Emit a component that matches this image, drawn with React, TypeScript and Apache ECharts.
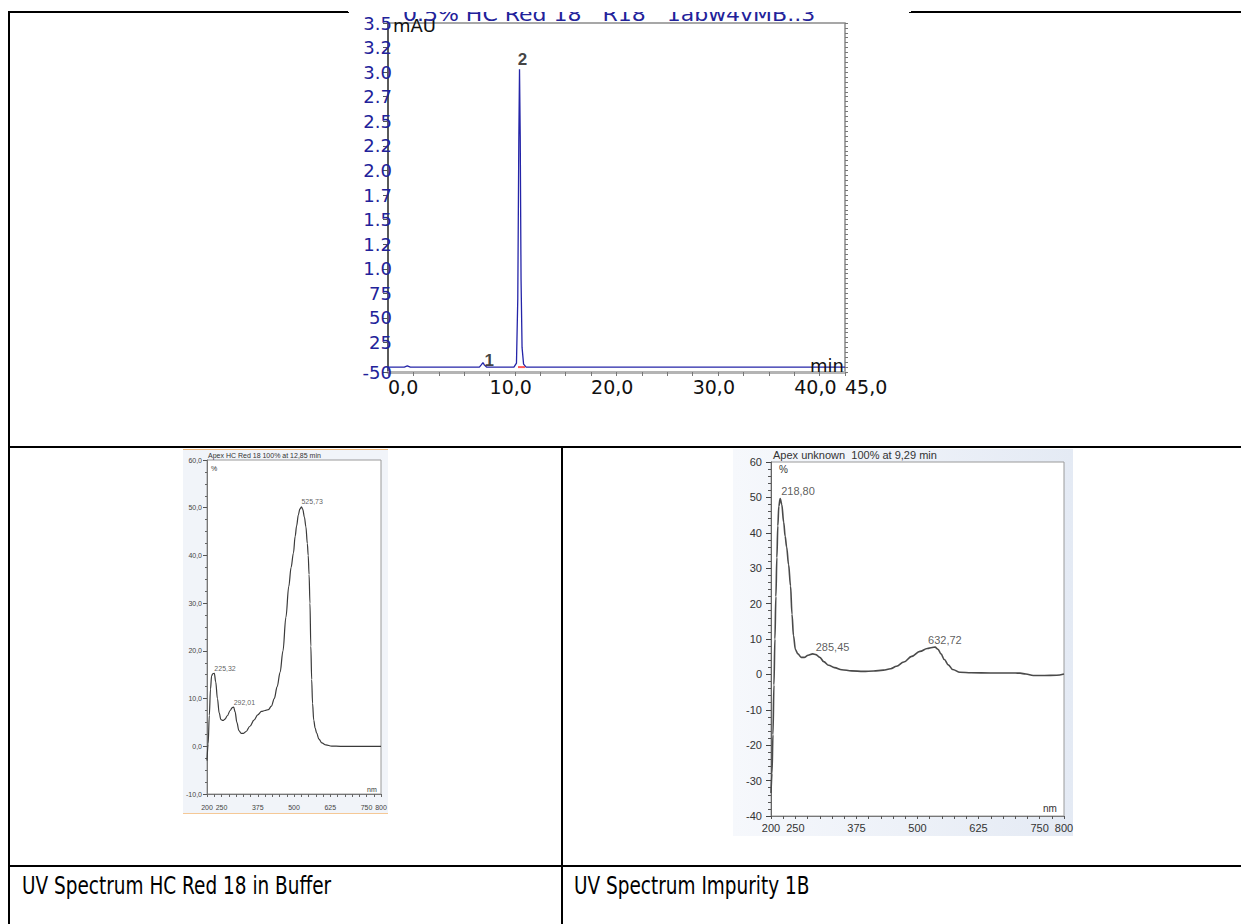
import React, { useEffect, useRef } from "react";
import * as echarts from "echarts";

// ---------- Chromatogram (top) ----------
const chromTime = [0, 1.6, 1.9, 2.2, 6, 9.0, 9.2, 9.35, 9.5, 9.7, 12.4, 12.65, 12.78, 12.88, 12.95, 13.02, 13.1, 13.2, 13.35, 13.6, 20, 30, 40, 45];
const chromSignal = [0, 0, 12, 0, 0, 0, 25, 45, 20, 0, 0, 40, 700, 2300, 3030, 2350, 900, 200, 30, 0, 0, 0, 0, 0];
const chromPeakNames = ["1", "2"];
const chromPeakTimes = [9.35, 12.95];
const chromIntegTimes = [12.8, 13.5];
const chromIntegLevel = [0, 0];
const chromXTicks = [0, 10, 20, 30, 40, 45];
const chromXLabels = ["0,0", "10,0", "20,0", "30,0", "40,0", "45,0"];
const chromYTicks = [-50, 250, 500, 750, 1000, 1250, 1500, 1750, 2000, 2250, 2500, 2750, 3000, 3250, 3500];
const chromYLabels = ["-50", "25", "50", "75", "1.0", "1.2", "1.5", "1.7", "2.0", "2.2", "2.5", "2.7", "3.0", "3.2", "3.5"];
const chromTitle = "0.5% HC Red 18   R18   1abw4vMB..3";

// ---------- UV spectrum HC Red 18 (bottom left) ----------
const uvRedNm = [200, 204, 208, 212, 216, 220, 225.32, 230, 236, 242, 248, 255, 262, 270, 280, 287, 292.01, 297, 303, 310, 318, 326, 335, 348, 362, 375, 388, 400, 412, 422, 432, 442, 452, 462, 472, 482, 490, 498, 504, 509, 515, 520, 525.73, 530, 536, 541, 546, 549, 552, 555, 558, 561, 564, 568, 573, 578, 586, 596, 610, 630, 660, 720, 800];
const uvRedPct = [-3, 0.5, 6.5, 12, 14.8, 15.2, 15.3, 13.5, 10, 7, 5.6, 5.4, 5.7, 6.4, 7.5, 8.1, 8.2, 7.2, 5, 3.3, 2.7, 2.7, 3.1, 4.2, 5.5, 6.6, 7.3, 7.5, 7.7, 8.4, 10, 12.5, 15.5, 20, 27, 33.5, 37.5, 40.5, 44, 46.2, 48.5, 49.7, 50.2, 49.7, 48, 46, 42.5, 40, 36, 30, 21, 14, 9, 5.5, 3.8, 2.8, 1.5, 0.7, 0.3, 0.05, 0, 0, 0];
const uvRedPeakNm = [225.32, 292.01, 525.73];
const uvRedPeakLabels = ["225,32", "292,01", "525,73"];
const uvRedYTicks = [-10, 0, 10, 20, 30, 40, 50, 60];
const uvRedYLabels = ["-10,0", "0,0", "10,0", "20,0", "30,0", "40,0", "50,0", "60,0"];
const uvRedTitle = "Apex HC Red 18 100% at 12,85 min";

// ---------- UV spectrum Impurity 1B (bottom right) ----------
const uvImpNm = [200, 202, 204, 206, 208, 210, 212, 214, 216, 218.8, 222, 226, 229, 232, 236, 240, 243, 246, 250, 255, 262, 268, 276, 285.45, 292, 300, 308, 318, 330, 345, 365, 389, 410, 430, 445, 457, 472, 488, 505, 520, 530, 536, 542, 548, 555, 563, 572, 587, 610, 650, 690, 710, 722, 737, 760, 785, 800];
const uvImpPct = [-33.5, -28, -17, -3, 10, 22, 33, 42, 47.5, 49.7, 48, 43, 39, 36, 31, 25, 17, 11, 7, 5.8, 4.8, 4.8, 5.4, 5.8, 5.6, 4.8, 3.6, 2.6, 1.9, 1.3, 1.0, 0.85, 0.95, 1.2, 1.6, 2.3, 3.5, 5.1, 6.5, 7.3, 7.6, 7.7, 7.1, 5.8, 4.2, 2.7, 1.4, 0.6, 0.45, 0.4, 0.4, 0.35, 0.1, -0.3, -0.3, -0.25, 0.1];
const uvImpPeakNm = [218.8, 285.45, 536];
const uvImpPeakLabels = ["218,80", "285,45", "632,72"];
const uvImpYTicks = [-40, -30, -20, -10, 0, 10, 20, 30, 40, 50, 60];
const uvImpYLabels = ["-40", "-30", "-20", "-10", "0", "10", "20", "30", "40", "50", "60"];
const uvImpTitle = "Apex unknown  100% at 9,29 min";

const uvXTicks = [200, 250, 375, 500, 625, 750, 800];
const uvXLabels = ["200", "250", "375", "500", "625", "750", "800"];

const captions = ["UV Spectrum HC Red 18 in Buffer", "UV Spectrum Impurity 1B"];

const pick = (ticks: number[], labels: string[]) => (v: number) => {
  const i = ticks.findIndex((t) => Math.abs(t - v) < 1e-6);
  return i >= 0 ? labels[i] : "";
};

export default function App() {
  const ref = useRef<HTMLDivElement>(null);

  useEffect(() => {
    const chart = echarts.init(ref.current!, null, { renderer: "svg" });
    const navy = "#22229a";
    const lineBlack = "#000";

    const chromData = chromTime.map((t, i) => [t, chromSignal[i]]);
    const chromPeakData = chromPeakTimes.map((t, i) => ({
      value: [t, chromSignal[chromTime.indexOf(t)]],
      name: chromPeakNames[i],
      label: i === 0 ? { position: "right", distance: 0, offset: [1, -2] } : { position: "top", distance: 1, offset: [3, 0] },
    }));

    const uvRedData = uvRedNm.map((n, i) => [n, uvRedPct[i]]);
    const uvRedPeakData = uvRedPeakNm.map((n, i) => ({
      value: [n, uvRedPct[uvRedNm.indexOf(n)]],
      name: uvRedPeakLabels[i],
    }));
    const uvImpData = uvImpNm.map((n, i) => [n, uvImpPct[i]]);
    const impDx = [1, 3, -7];
    const uvImpPeakData = uvImpPeakNm.map((n, i) => ({
      value: [n, uvImpPct[uvImpNm.indexOf(n)]],
      name: uvImpPeakLabels[i],
      label: { offset: [impDx[i], 0] },
    }));

    const txt = (text: string, x: number, y: number, size: number, color: string, family: string, extra: any = {}) => ({
      type: "text",
      x,
      y,
      z: extra.z ?? 20,
      scaleX: extra.scaleX ?? 1,
      silent: true,
      style: {
        text,
        fill: color,
        fontSize: size,
        fontFamily: family,
        fontWeight: extra.weight ?? "normal",
        align: extra.align ?? "left",
        textAlign: extra.align ?? "left",
        verticalAlign: "middle",
        textVerticalAlign: "middle",
      },
    });
    const ln = (x1: number, y1: number, x2: number, y2: number, color: string, w: number, z = 30) => ({
      type: "line",
      z,
      silent: true,
      shape: { x1, y1, x2, y2 },
      style: { stroke: color, lineWidth: w },
    });

    const uvXLabel = (size: number, margin: number, color: string) => ({
      customValues: uvXTicks,
      formatter: pick(uvXTicks, uvXLabels),
      showMinLabel: true,
      showMaxLabel: true,
      hideOverlap: false,
      margin,
      fontSize: size,
      color,
      fontFamily: "Liberation Sans",
    });

    const option: any = {
      animation: false,
      backgroundColor: "#ffffff",
      grid: [
        { left: 388, top: 23, width: 457, height: 349, show: true, borderColor: "#8a8a8a", borderWidth: 1.5, backgroundColor: "#fff" },
        { left: 207, top: 460, width: 174, height: 334, show: true, borderColor: "#9a9a9a", borderWidth: 1, backgroundColor: "#fff" },
        { left: 771, top: 462, width: 293, height: 354, show: true, borderColor: "#9a9a9a", borderWidth: 1, backgroundColor: "#fff" },
      ],
      xAxis: [
        {
          type: "value", gridIndex: 0, min: 0, max: 45, interval: 2.5,
          axisLine: { show: true, onZero: false, lineStyle: { color: "#b4b4b4", width: 3 } },
          axisTick: { show: true, length: 4, lineStyle: { color: "#777" } },
          axisLabel: {
            customValues: chromXTicks, formatter: pick(chromXTicks, chromXLabels),
            showMinLabel: true, showMaxLabel: true, hideOverlap: false,
            align: "left", margin: 5, fontSize: 19, color: "#111", fontFamily: "DejaVu Sans",
          },
          splitLine: { show: false },
        },
        {
          type: "value", gridIndex: 1, min: 200, max: 800, interval: 25,
          axisLine: { show: true, onZero: false, lineStyle: { color: "#777", width: 1 } },
          axisTick: { show: true, length: 3, lineStyle: { color: "#666" } },
          axisLabel: uvXLabel(7, 10, "#444"),
          splitLine: { show: false },
        },
        {
          type: "value", gridIndex: 2, min: 200, max: 800, interval: 25,
          axisLine: { show: true, onZero: false, lineStyle: { color: "#777", width: 1 } },
          axisTick: { show: true, length: 3, lineStyle: { color: "#555" } },
          axisLabel: uvXLabel(11, 6, "#333"),
          splitLine: { show: false },
        },
      ],
      yAxis: [
        {
          type: "value", gridIndex: 0, min: -50, max: 3500,
          axisLine: { show: true, onZero: false, lineStyle: { color: "#5a5a5a", width: 2 } },
          axisTick: { show: true, customValues: chromYTicks, length: 5, lineStyle: { color: "#555" } },
          axisLabel: {
            customValues: chromYTicks, formatter: pick(chromYTicks, chromYLabels),
            showMinLabel: true, showMaxLabel: true, hideOverlap: false,
            margin: -4, fontSize: 18, color: navy, fontFamily: "DejaVu Sans",
          },
          splitLine: { show: false },
        },
        {
          type: "value", gridIndex: 0, min: -50, max: 3500, interval: 50,
          axisLine: { show: false, onZero: false },
          axisTick: { show: true, length: 3, lineStyle: { color: "#777" } },
          axisLabel: { show: false },
          splitLine: { show: false },
        },
        {
          type: "value", gridIndex: 1, min: -10, max: 60, interval: 10,
          axisLine: { show: true, onZero: false, lineStyle: { color: "#777", width: 1 } },
          axisTick: { show: true, length: 4, lineStyle: { color: "#555" } },
          minorTick: { show: true, splitNumber: 4, length: 2, lineStyle: { color: "#666" } },
          axisLabel: {
            formatter: pick(uvRedYTicks, uvRedYLabels), margin: 5, fontSize: 7, color: "#444", fontFamily: "Liberation Sans",
          },
          splitLine: { show: false },
        },
        {
          type: "value", gridIndex: 2, min: -40, max: 60, interval: 10,
          axisLine: { show: true, onZero: false, lineStyle: { color: "#666", width: 1 } },
          axisTick: { show: true, length: 5, lineStyle: { color: "#444" } },
          minorTick: { show: true, splitNumber: 5, length: 3, lineStyle: { color: "#555" } },
          axisLabel: {
            formatter: pick(uvImpYTicks, uvImpYLabels), margin: 9, fontSize: 11, color: "#333", fontFamily: "Liberation Sans",
          },
          splitLine: { show: false },
        },
      ],
      series: [
        {
          type: "line", xAxisIndex: 0, yAxisIndex: 0, data: chromData, showSymbol: false, silent: true,
          lineStyle: { color: "#2424a8", width: 1.3 }, z: 3,
        },
        {
          type: "line", xAxisIndex: 0, yAxisIndex: 0, showSymbol: false, silent: true,
          data: chromIntegTimes.map((t, i) => [t, chromIntegLevel[i]]),
          lineStyle: { color: "#ff5a5a", width: 2 }, z: 4,
        },
        {
          type: "scatter", xAxisIndex: 0, yAxisIndex: 0, data: chromPeakData, symbolSize: 1, silent: true,
          itemStyle: { color: "rgba(0,0,0,0)" }, emphasis: { disabled: true },
          label: { show: true, formatter: (p: any) => p.name, fontSize: 17, fontWeight: "bold", color: "#111", fontFamily: "Liberation Sans" },
          z: 6,
        },
        {
          type: "line", xAxisIndex: 1, yAxisIndex: 2, data: uvRedData, showSymbol: false, silent: true,
          smooth: 0.35, smoothMonotone: "x", lineStyle: { color: "#3a3a3a", width: 1.2 },
        },
        {
          type: "scatter", xAxisIndex: 1, yAxisIndex: 2, data: uvRedPeakData, symbolSize: 1, silent: true,
          itemStyle: { color: "rgba(0,0,0,0)" }, emphasis: { disabled: true },
          label: { show: true, position: "top", align: "left", distance: 1, formatter: (p: any) => p.name, fontSize: 7, color: "#333", fontFamily: "Liberation Sans" },
        },
        {
          type: "line", xAxisIndex: 2, yAxisIndex: 3, data: uvImpData, showSymbol: false, silent: true,
          smooth: 0.35, smoothMonotone: "x", lineStyle: { color: "#4a4a4a", width: 1.6 },
        },
        {
          type: "scatter", xAxisIndex: 2, yAxisIndex: 3, data: uvImpPeakData, symbolSize: 1, silent: true,
          itemStyle: { color: "rgba(0,0,0,0)" }, emphasis: { disabled: true },
          label: { show: true, position: "top", align: "left", distance: 1, formatter: (p: any) => p.name, fontSize: 11, color: "#333", fontFamily: "Liberation Sans" },
        },
      ],
      graphic: [
        // image backgrounds of the UV spectra
        { type: "rect", z: -10, silent: true, shape: { x: 183, y: 449, width: 205, height: 364 }, style: { fill: "#f1f4f9" } },
        {
          type: "rect", z: -10, silent: true, shape: { x: 733, y: 449, width: 340, height: 387 },
          style: { fill: new echarts.graphic.LinearGradient(0, 0, 1, 0, [{ offset: 0, color: "#f6f8fc" }, { offset: 1, color: "#e4eaf4" }]) },
        },
        ln(183, 449.5, 388, 449.5, "#f0b77a", 1, 25),
        ln(183, 813.5, 388, 813.5, "#f5c896", 1, 25),
        // chromatogram title, clipped at the top
        txt(chromTitle, 403, 14, 20, navy, "DejaVu Sans", { z: 40, scaleX: 1.1 }),
        { type: "rect", z: 45, silent: true, shape: { x: 348, y: 0, width: 563, height: 12 }, style: { fill: "#fff" } },
        txt("mAU", 393, 25, 18, "#111", "DejaVu Sans"),
        txt("min", 810, 365, 18, "#111", "DejaVu Sans"),
        // UV titles and axis units
        txt(uvRedTitle, 208, 455, 7, "#333", "Liberation Sans"),
        txt("%", 211, 468, 7, "#333", "Liberation Sans"),
        txt("nm", 367, 789, 7, "#333", "Liberation Sans"),
        txt(uvImpTitle, 773, 455, 11, "#333", "Liberation Sans"),
        txt("%", 779, 469, 10, "#333", "Liberation Sans"),
        txt("nm", 1043, 808, 10, "#333", "Liberation Sans"),
        // table lines
        ln(8, 12, 349, 12, lineBlack, 2),
        ln(909, 12, 1241, 12, lineBlack, 2),
        ln(9, 11, 9, 924, lineBlack, 2),
        ln(8, 447, 1241, 447, lineBlack, 2),
        ln(562, 447, 562, 924, lineBlack, 2),
        ln(8, 866, 1241, 866, lineBlack, 2),
        // captions
        txt(captions[0], 22, 886, 24, "#000", "DejaVu Sans", { scaleX: 0.77 }),
        txt(captions[1], 574, 886, 24, "#000", "DejaVu Sans", { scaleX: 0.77 }),
      ],
    };

    chart.setOption(option);
    return () => chart.dispose();
  }, []);

  return (
    <div
      ref={ref}
      style={{ position: "absolute", left: 0, top: 0, width: 1241, height: 924, background: "#fff" }}
    />
  );
}
